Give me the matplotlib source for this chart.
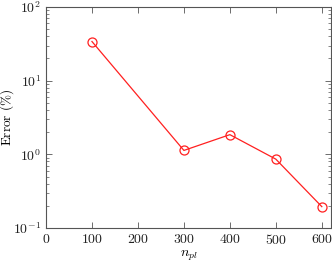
import matplotlib
matplotlib.use("Agg")
import matplotlib.pyplot as plt

n_pl = [100, 300, 400, 500, 600]
error_pct = [34.0, 1.13, 1.85, 0.86, 0.195]
xticks = [0, 100, 200, 300, 400, 500, 600]

plt.rcParams['font.family'] = 'serif'
plt.rcParams['font.serif'] = ['cmr10']
plt.rcParams['mathtext.fontset'] = 'cm'
plt.rcParams['axes.formatter.use_mathtext'] = True
plt.rcParams['axes.unicode_minus'] = True

fig = plt.figure(figsize=(3.32, 2.63), dpi=100)
ax = fig.add_axes([46/332, 35/263, 285/332, 221/263])
ax.plot(n_pl, error_pct, color='#ff2020', lw=0.9, marker='o', ms=6.5,
        mfc='none', mec='#ff2020', mew=0.9)
ax.set_yscale('log')
ax.set_ylim(0.1, 100)
ax.set_xlim(0, 620)
ax.set_xticks(xticks)
gray = '#555555'
for s in ax.spines.values():
    s.set_color(gray)
    s.set_linewidth(0.8)
ax.tick_params(which='both', direction='in', top=True, right=True, colors=gray,
               labelcolor='#222222', labelsize=10)
ax.tick_params(which='major', length=4, width=0.6)
ax.tick_params(which='minor', length=2, width=0.5)
ax.set_xlabel(r'$n_{pl}$', fontsize=10)
ax.set_ylabel(r'Error $(\%)$', fontsize=9.5)
ax.yaxis.set_label_coords(-0.105, 0.5)
ax.xaxis.set_label_coords(0.5, -0.095)
fig.savefig('out.png', dpi=100)
